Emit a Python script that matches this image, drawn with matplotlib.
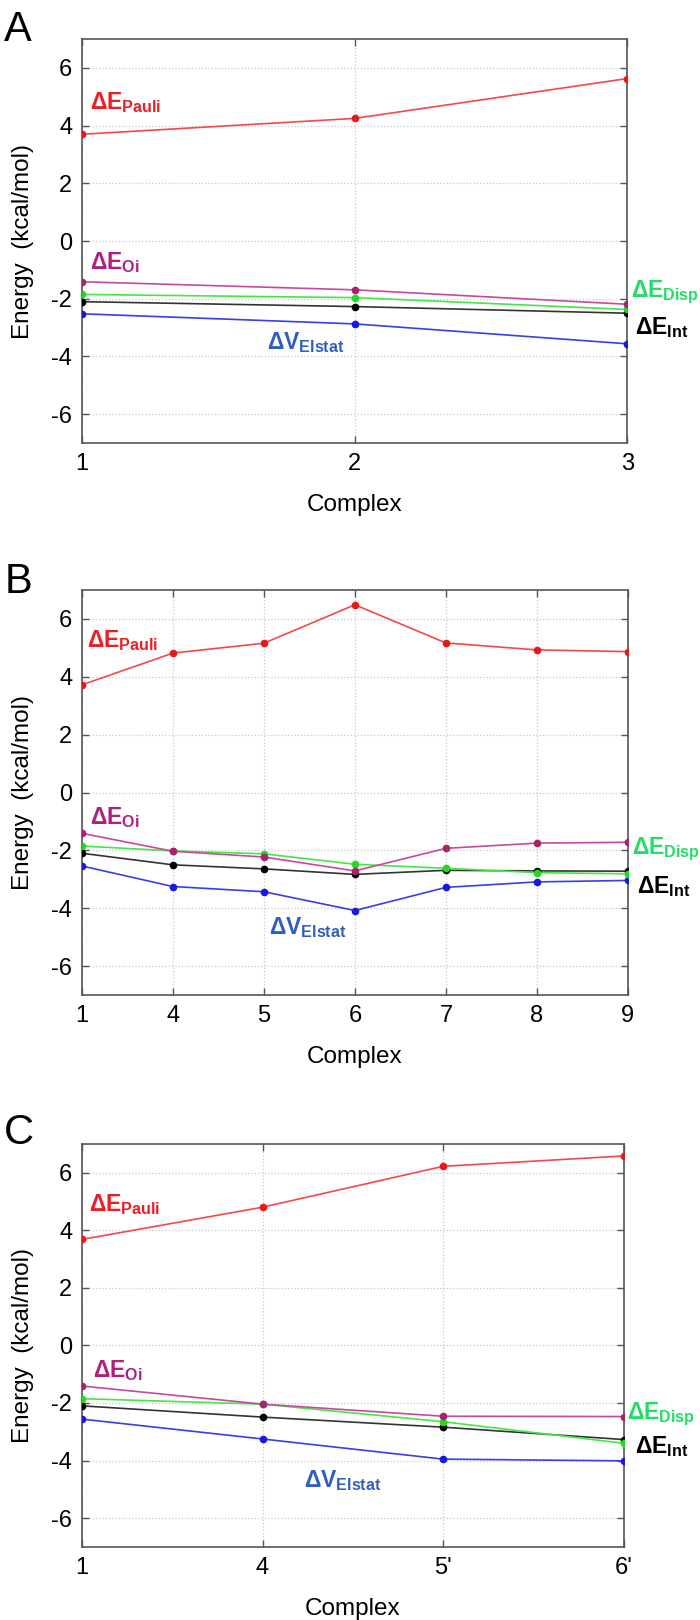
import matplotlib
matplotlib.use("Agg")
import matplotlib.pyplot as plt

plt.rcParams['font.family'] = ['Liberation Sans', 'DejaVu Sans']
plt.rcParams['mathtext.fontset'] = 'custom'
plt.rcParams['mathtext.rm'] = 'Liberation Sans'
plt.rcParams['mathtext.bf'] = 'Liberation Sans:bold'
plt.rcParams['axes.unicode_minus'] = False

# panel A
labels_a = ['1', '2', '3']
pauli_a = [3.70, 4.25, 5.63]
oi_a = [-1.41, -1.69, -2.19]
disp_a = [-1.85, -1.96, -2.37]
int_a = [-2.10, -2.27, -2.50]
elstat_a = [-2.52, -2.87, -3.56]

# panel B
labels_b = ['1', '4', '5', '6', '7', '8', '9']
pauli_b = [3.72, 4.82, 5.16, 6.49, 5.17, 4.93, 4.87]
oi_b = [-1.41, -2.03, -2.23, -2.71, -1.93, -1.75, -1.72]
disp_b = [-1.85, -2.02, -2.12, -2.48, -2.62, -2.77, -2.81]
int_b = [-2.10, -2.50, -2.64, -2.83, -2.69, -2.71, -2.72]
elstat_b = [-2.54, -3.25, -3.43, -4.08, -3.28, -3.09, -3.04]

# panel C
labels_c = ['1', '4', "5'", "6'"]
pauli_c = [3.68, 4.80, 6.22, 6.58]
oi_c = [-1.41, -2.04, -2.46, -2.47]
disp_c = [-1.85, -2.04, -2.65, -3.40]
int_c = [-2.10, -2.49, -2.84, -3.27]
elstat_c = [-2.56, -3.25, -3.95, -4.01]

texts = [r'$\mathbf{\Delta E_{Pauli}}$', r'$\mathbf{\Delta E_{Oi}}$',
         r'$\mathbf{\Delta E_{Disp}}$', r'$\mathbf{\Delta E_{Int}}$',
         r'$\mathbf{\Delta V_{Elstat}}$']
line_cols = ['#f24a4a', '#c8489e', '#44e844', '#333333', '#3b3bf0']
mark_cols = ['#e81818', '#a8226e', '#22d822', '#000000', '#1818e0']
text_cols = ['#ee1c24', '#b01e80', '#22dd66', '#000000', '#2e5fbf']

# label anchor positions (x index, y) for each panel
pos_a = [(0.03, 4.8), (0.03, -0.75), (2.015, -1.76), (2.03, -3.0), (0.68, -3.5)]
pos_b = [(0.06, 5.26), (0.09, -0.87), (6.04, -1.97), (6.1, -3.24), (2.06, -4.68)]
pos_c = [(0.04, 4.88), (0.06, -0.86), (3.02, -2.41), (3.06, -3.52), (1.23, -4.69)]

panels = [
    ('A', labels_a, [pauli_a, oi_a, disp_a, int_a, elstat_a], pos_a,
     [0.117, 0.7265, 0.779, 0.2494], 0.994),
    ('B', labels_b, [pauli_b, oi_b, disp_b, int_b, elstat_b], pos_b,
     [0.117, 0.3858, 0.780, 0.2500], 0.653),
    ('C', labels_c, [pauli_c, oi_c, disp_c, int_c, elstat_c], pos_c,
     [0.117, 0.0451, 0.774, 0.2488], 0.313),
]

fig = plt.figure(figsize=(7.0, 16.2), dpi=100)

for letter, xlabels, series, pos, rect, ly in panels:
    ax = fig.add_axes(rect)
    x = list(range(len(xlabels)))
    # black first so the coloured lines sit on top
    for i in [3, 4, 2, 1, 0]:
        ax.plot(x, series[i], color=line_cols[i], lw=1.2, zorder=3)
        ax.plot(x, series[i], 'o', color=mark_cols[i], ms=4.5, zorder=4)
    for i in range(5):
        ax.text(pos[i][0], pos[i][1], texts[i], color=text_cols[i],
                fontsize=16.5, ha='left', va='center', clip_on=False)
    ax.set_xlim(0, len(xlabels) - 1)
    ax.set_ylim(-7, 7)
    ax.set_xticks(x)
    ax.set_xticklabels(xlabels)
    ax.set_yticks([-6, -4, -2, 0, 2, 4, 6])
    ax.grid(True, color='#c8c8c8', ls=':', lw=0.9)
    ax.tick_params(direction='in', length=5, width=1.0, color='#555555',
                   labelsize=17, top=True, right=True, pad=7)
    for sp in ax.spines.values():
        sp.set_color('#555555')
        sp.set_linewidth(1.2)
    ax.set_xlabel('Complex', fontsize=17.5, labelpad=14)
    ax.set_ylabel('Energy  (kcal/mol)', fontsize=17.5)
    ax.yaxis.set_label_coords(-0.088, 0.5)
    fig.text(0.006, ly, letter, fontsize=30, ha='left', va='top')

fig.savefig('out.png', dpi=100)
